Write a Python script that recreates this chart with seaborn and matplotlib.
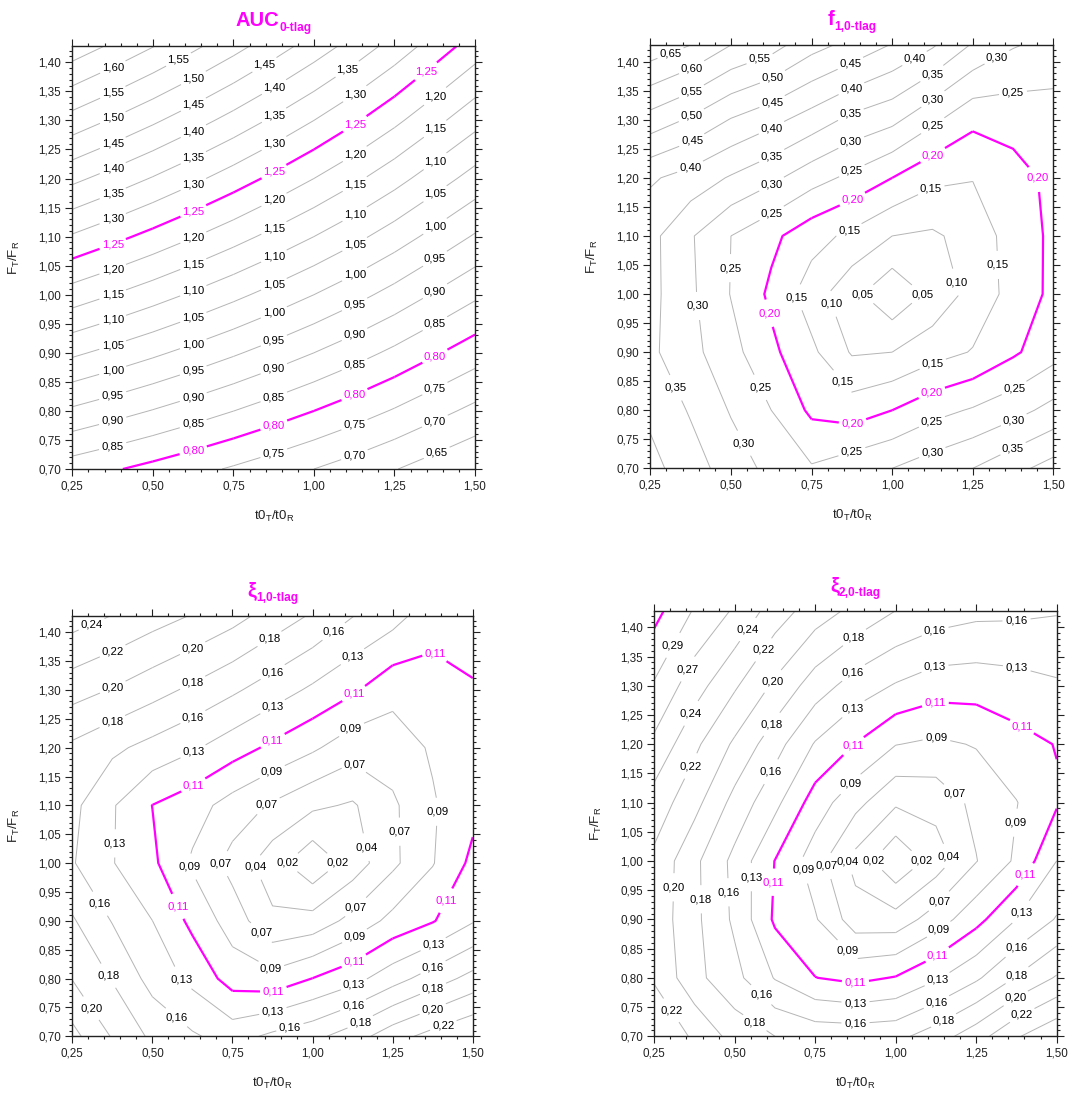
import numpy as np
import matplotlib
matplotlib.use("Agg")
import matplotlib.pyplot as plt
import seaborn as sns
from matplotlib.ticker import MultipleLocator, FuncFormatter
from matplotlib.transforms import IdentityTransform

# ---------------- data ----------------
x_nodes = [0.25, 0.375, 0.5, 0.625, 0.75, 0.875, 1.0, 1.125, 1.25, 1.375, 1.5]
y_nodes = [0.70, 0.80, 0.90, 1.00, 1.10, 1.20, 1.30, 1.4286]

auc_grid = [
    [0.8239, 0.8050, 0.7854, 0.7651, 0.7441, 0.7224, 0.7000, 0.6769, 0.6524, 0.6265, 0.6013],
    [0.9416, 0.9200, 0.8976, 0.8744, 0.8504, 0.8256, 0.8000, 0.7736, 0.7456, 0.7160, 0.6872],
    [1.0593, 1.0350, 1.0098, 0.9837, 0.9567, 0.9288, 0.9000, 0.8703, 0.8388, 0.8055, 0.7731],
    [1.1770, 1.1500, 1.1220, 1.0930, 1.0630, 1.0320, 1.0000, 0.9670, 0.9320, 0.8950, 0.8590],
    [1.2947, 1.2650, 1.2342, 1.2023, 1.1693, 1.1352, 1.1000, 1.0637, 1.0252, 0.9845, 0.9449],
    [1.4124, 1.3800, 1.3464, 1.3116, 1.2756, 1.2384, 1.2000, 1.1604, 1.1184, 1.0740, 1.0308],
    [1.5301, 1.4950, 1.4586, 1.4209, 1.3819, 1.3416, 1.3000, 1.2571, 1.2116, 1.1635, 1.1167],
    [1.6815, 1.6429, 1.6029, 1.5615, 1.5186, 1.4743, 1.4286, 1.3815, 1.3315, 1.2786, 1.2272],
]

f1_grid = [
    [0.415, 0.373, 0.326, 0.286, 0.255, 0.280, 0.300, 0.326, 0.350, 0.385, 0.420],
    [0.390, 0.345, 0.296, 0.250, 0.190, 0.175, 0.200, 0.233, 0.255, 0.282, 0.316],
    [0.360, 0.315, 0.267, 0.211, 0.161, 0.095, 0.100, 0.130, 0.153, 0.192, 0.232],
    [0.365, 0.309, 0.248, 0.190, 0.124, 0.065, 0.010, 0.063, 0.118, 0.167, 0.212],
    [0.365, 0.305, 0.250, 0.212, 0.169, 0.138, 0.100, 0.092, 0.120, 0.171, 0.210],
    [0.407, 0.380, 0.345, 0.312, 0.270, 0.238, 0.200, 0.162, 0.152, 0.181, 0.212],
    [0.530, 0.493, 0.447, 0.415, 0.378, 0.337, 0.313, 0.261, 0.212, 0.219, 0.225],
    [0.683, 0.650, 0.600, 0.570, 0.518, 0.485, 0.447, 0.406, 0.345, 0.304, 0.285],
]

xi1_grid = [
    [0.230, 0.199, 0.174, 0.159, 0.147, 0.161, 0.172, 0.190, 0.214, 0.231, 0.245],
    [0.200, 0.177, 0.148, 0.128, 0.102, 0.097, 0.112, 0.126, 0.147, 0.167, 0.186],
    [0.181, 0.155, 0.134, 0.106, 0.079, 0.049, 0.053, 0.074, 0.096, 0.110, 0.132],
    [0.158, 0.135, 0.116, 0.086, 0.059, 0.032, 0.005, 0.032, 0.062, 0.088, 0.117],
    [0.162, 0.136, 0.1113, 0.099, 0.080, 0.064, 0.049, 0.042, 0.063, 0.087, 0.105],
    [0.174, 0.161, 0.149, 0.137, 0.122, 0.107, 0.093, 0.076, 0.078, 0.092, 0.102],
    [0.210, 0.1995, 0.187, 0.174, 0.160, 0.145, 0.130, 0.115, 0.096, 0.103, 0.110],
    [0.256, 0.245, 0.233, 0.222, 0.209, 0.192, 0.176, 0.157, 0.143, 0.120, 0.120],
]

xi2_grid = [
    [0.240, 0.220, 0.192, 0.1785, 0.171, 0.170, 0.172, 0.190, 0.2135, 0.243, 0.264],
    [0.221, 0.185, 0.163, 0.1325, 0.112, 0.106, 0.113, 0.131, 0.1525, 0.180, 0.203],
    [0.215, 0.184, 0.152, 0.108, 0.0915, 0.055, 0.0535, 0.078, 0.1043, 0.134, 0.158],
    [0.218, 0.1835, 0.150, 0.111, 0.0775, 0.037, 0.003, 0.032, 0.066, 0.093, 0.134],
    [0.236, 0.208, 0.171, 0.140, 0.101, 0.074, 0.048, 0.053, 0.0726, 0.0885, 0.109],
    [0.263, 0.228, 0.197, 0.165, 0.132, 0.111, 0.090, 0.085, 0.0908, 0.104, 0.1125],
    [0.2876, 0.255, 0.226, 0.1965, 0.1675, 0.146, 0.132, 0.122, 0.1214, 0.125, 0.131],
    [0.320, 0.288, 0.265, 0.2346, 0.212, 0.195, 0.1785, 0.168, 0.1621, 0.161, 0.158],
]

auc_levels = [0.65, 0.70, 0.75, 0.80, 0.85, 0.90, 0.95, 1.00, 1.05, 1.10, 1.15, 1.20,
              1.25, 1.30, 1.35, 1.40, 1.45, 1.50, 1.55, 1.60, 1.65]
auc_labels = ["0,65", "0,70", "0,75", "0,80", "0,85", "0,90", "0,95", "1,00", "1,05", "1,10",
              "1,15", "1,20", "1,25", "1,30", "1,35", "1,40", "1,45", "1,50", "1,55", "1,60", "1,65"]
auc_highlight = [0.80, 1.25]

f1_levels = [0.05, 0.10, 0.15, 0.20, 0.25, 0.30, 0.35, 0.40, 0.45, 0.50, 0.55, 0.60, 0.65]
f1_labels = ["0,05", "0,10", "0,15", "0,20", "0,25", "0,30", "0,35", "0,40", "0,45", "0,50",
             "0,55", "0,60", "0,65"]
f1_highlight = [0.20]

xi_levels = [0.0223, 0.0446, 0.0669, 0.0893, 0.1116, 0.1339, 0.1562, 0.1785, 0.2008,
             0.2231, 0.2454, 0.2678, 0.2901, 0.3124]
xi_labels = ["0,02", "0,04", "0,07", "0,09", "0,11", "0,13", "0,16", "0,18", "0,20",
             "0,22", "0,24", "0,27", "0,29", ""]
xi_highlight = [0.1116, 0.3124]

titles = [("AUC", "0-tlag"), ("f", "1,0-tlag"), ("ξ", "1,0-tlag"), ("ξ", "2,0-tlag")]
x_range = (0.25, 1.50)
y_range = (0.70, 1.4286)

# ---------------- style ----------------
MAGENTA = "#ff00ff"
GRAY = "#b5b5b5"
DARK = "#222222"

sns.set_theme(style="ticks")
plt.rcParams.update({
    "font.family": ["Liberation Sans", "DejaVu Sans"],
    "mathtext.fontset": "custom",
    "mathtext.rm": "Liberation Sans",
    "mathtext.it": "Liberation Sans:italic",
    "mathtext.bf": "Liberation Sans:bold",
    "axes.linewidth": 1.0,
    "axes.edgecolor": DARK,
    "xtick.color": DARK,
    "ytick.color": DARK,
    "axes.facecolor": "white",
    "figure.facecolor": "white",
})

fig = plt.figure(figsize=(10.89, 10.93), dpi=100)
positions = [
    [0.0664, 0.5709, 0.3698, 0.3873],
    [0.5972, 0.5715, 0.3701, 0.3873],
    [0.0664, 0.0519, 0.3677, 0.3848],
    [0.6008, 0.0519, 0.3695, 0.3894],
]
panels = [
    (auc_grid, auc_levels, auc_labels, auc_highlight),
    (f1_grid, f1_levels, f1_labels, f1_highlight),
    (xi1_grid, xi_levels, xi_labels, xi_highlight),
    (xi2_grid, xi_levels, xi_labels, xi_highlight),
]

comma = FuncFormatter(lambda v, p: f"{v:.2f}".replace(".", ","))


def setup_axes(ax):
    ax.set_xlim(*x_range)
    ax.set_ylim(*y_range)
    ax.xaxis.set_major_locator(MultipleLocator(0.25))
    ax.xaxis.set_minor_locator(MultipleLocator(0.05))
    ax.yaxis.set_major_locator(MultipleLocator(0.05))
    ax.yaxis.set_minor_locator(MultipleLocator(0.01))
    ax.xaxis.set_major_formatter(comma)
    ax.yaxis.set_major_formatter(comma)
    ax.tick_params(which="both", direction="out", top=True, right=True,
                   labeltop=False, labelright=False, width=0.8, labelsize=8.4,
                   pad=3)
    ax.tick_params(which="major", length=5)
    ax.tick_params(which="minor", length=2.5)
    for s in ax.spines.values():
        s.set_visible(True)
        s.set_color(DARK)
        s.set_linewidth(1.0)
    ax.set_xlabel(r"$\mathregular{t0_T/t0_R}$", fontsize=9.5, labelpad=12, color=DARK)
    ax.set_ylabel(r"$\mathregular{F_T/F_R}$", fontsize=9.5, labelpad=12, color=DARK)


def nearest(levels, v):
    return min(levels, key=lambda u: abs(u - v))


def label_point(ax, disp):
    """Pick a point near the middle of a contour piece that keeps the label inside the axes."""
    bb = ax.get_window_extent()
    seg = np.hypot(*np.diff(disp, axis=0).T)
    total = seg.sum()
    cum = np.concatenate([[0.0], np.cumsum(seg)])
    for frac in (0.5, 0.42, 0.58, 0.34, 0.66, 0.26, 0.74):
        s = total * frac
        j = np.searchsorted(cum, s) - 1
        j = max(0, min(j, len(seg) - 1))
        t = (s - cum[j]) / seg[j] if seg[j] > 0 else 0.0
        pd = disp[j] + t * (disp[j + 1] - disp[j])
        if (pd[0] - bb.x0 > 15 and bb.x1 - pd[0] > 15 and
                pd[1] - bb.y0 > 8 and bb.y1 - pd[1] > 8):
            return pd
    return None


def draw_panel(ax, grid, levels, labels, highlight):
    X = np.array(x_nodes)
    Y = np.array(y_nodes)
    Z = np.array(grid)
    hl = [any(abs(l - h) < 1e-9 for h in highlight) for l in levels]
    line_colors = [MAGENTA if h else GRAY for h in hl]
    lws = [1.6 if h else 0.7 for h in hl]
    lab_of = dict(zip(levels, labels))
    col_of = dict(zip(levels, [MAGENTA if h else "black" for h in hl]))
    for i0 in range(0, len(X) - 1, 2):
        sl = slice(i0, i0 + 3)
        cs = ax.contour(X[sl], Y, Z[:, sl], levels=levels, colors=line_colors,
                        linewidths=lws)
        pts = []
        paths = cs.get_paths()
        for k, lev in enumerate(cs.levels):
            key = nearest(levels, lev)
            if not lab_of[key] or k >= len(paths):
                continue
            p = paths[k]
            if len(p.vertices) == 0:
                continue
            for poly in p.to_polygons(closed_only=False):
                if len(poly) < 2:
                    continue
                disp = ax.transData.transform(poly)
                if np.hypot(*np.diff(disp, axis=0).T).sum() < 42:
                    continue
                pd = label_point(ax, disp)
                if pd is None:
                    continue
                pts.append(tuple(ax.transData.inverted().transform(pd)))
        if pts:
            all_lev = list(cs.levels)
            fmt = {l: lab_of[nearest(levels, l)] for l in all_lev}
            cols = [col_of[nearest(levels, l)] for l in all_lev]
            texts = ax.clabel(cs, inline=True, inline_spacing=3,
                              fmt=fmt, fontsize=8.2, colors=cols, manual=pts)
            for t in texts:
                t.set_rotation(0)


axes = []
for pos, (grid, levels, labels, hl) in zip(positions, panels):
    ax = fig.add_axes(pos)
    setup_axes(ax)
    draw_panel(ax, grid, levels, labels, hl)
    axes.append(ax)

# two-part bold magenta titles with subscript
renderer = fig.canvas.get_renderer()
for ax, (main, sub) in zip(axes, titles):
    t1 = fig.text(0, 0, main, fontsize=14.5, fontweight="bold", color=MAGENTA,
                  ha="left", va="baseline", transform=IdentityTransform())
    t2 = fig.text(0, 0, sub, fontsize=8.6, fontweight="bold", color=MAGENTA,
                  ha="left", va="baseline", transform=IdentityTransform())
    w1 = t1.get_window_extent(renderer).width
    w2 = t2.get_window_extent(renderer).width
    bb = ax.get_window_extent(renderer)
    x0 = bb.x0 + bb.width / 2 - (w1 + w2) / 2
    y0 = bb.y1 + 20
    t1.set_position((x0, y0))
    t2.set_position((x0 + w1, y0 - 5))

fig.savefig("out.png", dpi=100)
